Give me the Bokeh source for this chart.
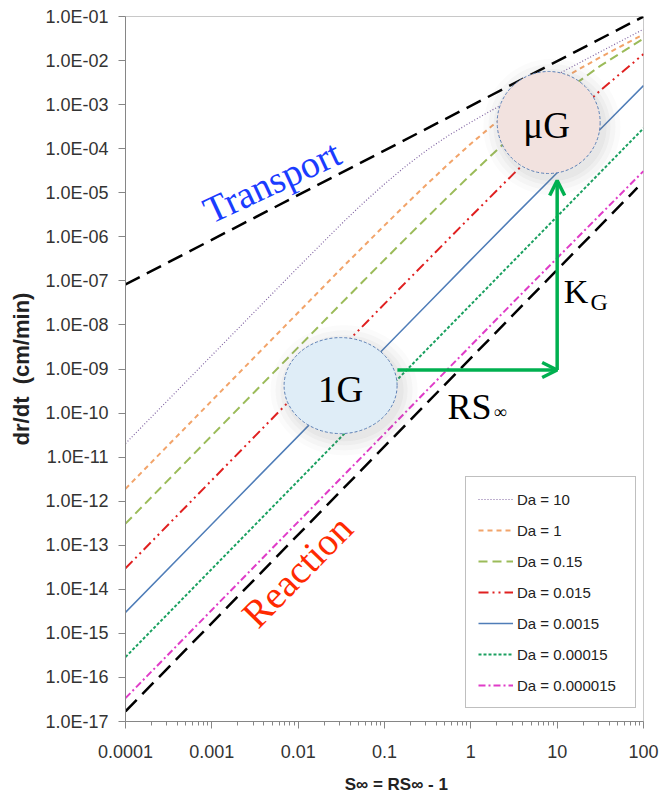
from bokeh.plotting import figure
from bokeh.models import Range1d, FixedTicker, CustomJSTickFormatter, Arrow, OpenHead
from bokeh.core.properties import value
from bokeh.embed import file_html
from bokeh.resources import INLINE

# ---------------- data ----------------
s_inf = [0.0001, 0.001, 0.01, 0.0316, 0.1, 0.316, 1, 3.16, 10, 31.6, 100]
s_inf_fine = [0.0001, 0.001, 0.01, 0.0316, 0.0562, 0.1, 0.178, 0.316, 0.562, 1,
              1.78, 3.16, 5.62, 10, 31.6, 100]
rate_da_10 = [2.04e-11, 2.04e-9, 2.04e-7, 1.95e-6, 5.75e-6, 1.58e-5, 4.07e-5, 9.55e-5,
              2.04e-4, 3.98e-4, 7.59e-4, 1.41e-3, 2.63e-3, 4.79e-3, 1.58e-2, 5.13e-2]
rate_da_1 = [1.91e-12, 1.91e-10, 1.91e-8, 1.91e-7, 5.89e-7, 1.82e-6, 5.50e-6, 1.62e-5,
             4.68e-5, 1.30e-4, 3.35e-4, 7.85e-4, 1.68e-3, 3.35e-3, 1.19e-2, 3.94e-2]
rate_da_0_15 = [3.09e-13, 3.09e-11, 3.09e-9, 3.09e-8, 9.66e-8, 3.02e-7, 9.33e-7, 2.85e-6,
                8.61e-6, 2.57e-5, 7.50e-5, 2.11e-4, 5.75e-4, 1.48e-3, 7.59e-3, 3.16e-2]
rate_da_0_015 = [3.0e-14, 3.0e-12, 3.0e-10, 3.0e-9, 3.0e-8, 2.95e-7, 2.9e-6, 2.75e-5, 2.5e-4, 2.1e-3, 1.4e-2]
rate_da_0_0015 = [3.0e-15, 3.0e-13, 3.0e-11, 3.0e-10, 3.0e-9, 3.0e-8, 3.0e-7, 2.95e-6, 2.85e-5, 2.75e-4, 2.7e-3]
rate_da_0_00015 = [2.9e-16, 2.9e-14, 2.9e-12, 2.9e-11, 2.9e-10, 2.9e-9, 2.9e-8, 2.9e-7, 2.9e-6, 2.9e-5, 2.9e-4]
rate_da_0_000015 = [3.4e-17, 3.4e-15, 3.4e-13, 3.4e-12, 3.4e-11, 3.4e-10, 3.4e-9, 3.4e-8, 3.3e-7, 3.2e-6, 3.1e-5]

da_labels = ["Da = 10", "Da = 1", "Da = 0.15", "Da = 0.015", "Da = 0.0015",
             "Da = 0.00015", "Da = 0.000015"]

transport_x = [0.0001, 100]
transport_y = [8.3e-8, 1.0e-1]
reaction_x = [0.0001, 85]
reaction_y = [1.7e-17, 1.3e-5]

x_ticks = [0.0001, 0.001, 0.01, 0.1, 1, 10, 100]
x_tick_labels = ["0.0001", "0.001", "0.01", "0.1", "1", "10", "100"]
y_ticks = [1e-17, 1e-16, 1e-15, 1e-14, 1e-13, 1e-12, 1e-11, 1e-10, 1e-09,
           1e-08, 1e-07, 1e-06, 1e-05, 1e-04, 1e-03, 1e-02, 1e-01]
y_tick_labels = ["1.0E-17", "1.0E-16", "1.0E-15", "1.0E-14", "1.0E-13", "1.0E-12",
                 "1.0E-11", "1.0E-10", "1.0E-09", "1.0E-08", "1.0E-07", "1.0E-06",
                 "1.0E-05", "1.0E-04", "1.0E-03", "1.0E-02", "1.0E-01"]

NB = "\u00a0"

# ---------------- figure ----------------
p = figure(x_axis_type="log", y_axis_type="log",
           x_range=Range1d(1e-4, 100), y_range=Range1d(1e-17, 1e-1),
           frame_width=518, frame_height=705,
           min_border_left=125, min_border_right=17, min_border_top=16, min_border_bottom=79,
           output_backend="svg", toolbar_location=None,
           background_fill_color="white", border_fill_color="white")
p.grid.visible = False
p.outline_line_color = "#C8C8C8"

fmt_code = """
let best = 0; let bd = Infinity;
for (let i = 0; i < vals.length; i++) {
  const d = Math.abs(Math.log10(vals[i]) - Math.log10(tick));
  if (d < bd) { bd = d; best = i; }
}
return labels[best];
"""
minor_x = [m * 10.0 ** k for k in range(-4, 2) for m in range(2, 10)]
p.xaxis.ticker = FixedTicker(ticks=x_ticks, minor_ticks=minor_x)
p.xaxis.formatter = CustomJSTickFormatter(args=dict(vals=x_ticks, labels=x_tick_labels), code=fmt_code)
p.yaxis.ticker = FixedTicker(ticks=y_ticks, minor_ticks=[])
p.yaxis.formatter = CustomJSTickFormatter(args=dict(vals=y_ticks, labels=y_tick_labels), code=fmt_code)

for ax in (p.xaxis, p.yaxis):
    ax.axis_line_color = "#868686"
    ax.major_tick_line_color = "#868686"
    ax.minor_tick_line_color = "#868686"
    ax.major_tick_in = 0
    ax.major_tick_out = 7
    ax.minor_tick_in = 0
    ax.major_label_text_font = "Liberation Sans"
    ax.major_label_text_font_size = "18px"
    ax.major_label_text_color = "#333333"
    ax.axis_label_text_font = "Liberation Sans"
    ax.axis_label_text_font_style = "bold"
    ax.axis_label_text_color = "#222222"
p.xaxis.axis_label_text_font_size = "17px"
p.yaxis.axis_label_text_font_size = "22px"
p.xaxis.minor_tick_out = 4
p.yaxis.minor_tick_out = 0
p.xaxis.major_label_standoff = 16
p.yaxis.major_label_standoff = 10
p.xaxis.axis_label = NB * 5 + "S\u221e = RS\u221e - 1"
p.yaxis.axis_label = "dr/dt" + NB + NB + "(cm/min)"
p.xaxis.axis_label_standoff = 14
p.yaxis.axis_label_standoff = 8

# ---------------- limit lines ----------------
p.line(transport_x, transport_y, line_color="black", line_width=2.5, line_dash="16 8")
p.line(reaction_x, reaction_y, line_color="black", line_width=2.5, line_dash="16 8")

# ---------------- Da curves ----------------
series = [(s_inf_fine, rate_da_10), (s_inf_fine, rate_da_1), (s_inf_fine, rate_da_0_15),
          (s_inf, rate_da_0_015), (s_inf, rate_da_0_0015),
          (s_inf, rate_da_0_00015), (s_inf, rate_da_0_000015)]
styles = [
    dict(line_color="#8064A2", line_width=1.2, line_dash="1 2"),
    dict(line_color="#F2A46A", line_width=2, line_dash="5 4"),
    dict(line_color="#9BBB59", line_width=2, line_dash="9 5"),
    dict(line_color="#E02020", line_width=2, line_dash="10 4 2 4 2 4"),
    dict(line_color="#4F7DB8", line_width=1.5),
    dict(line_color="#1AA060", line_width=2, line_dash="3 2"),
    dict(line_color="#E03CC8", line_width=2, line_dash="7 3 2 3"),
]
for (xs, ys), lab, st in zip(series, da_labels, styles):
    p.line(xs, ys, legend_label=lab, **st)

# ---------------- circles with shadows ----------------
g1_center = (0.031, 4.2e-10)
ug_center = (7.97, 3.93e-4)
shadow_1g = (0.034, 3.3e-10)
shadow_ug = (8.7, 3.1e-4)
for grow, alpha in [(34, 0.03), (24, 0.04), (14, 0.05), (6, 0.06)]:
    p.ellipse(x=[shadow_1g[0]], y=[shadow_1g[1]], width=113 + grow, height=96 + grow,
              width_units="screen", height_units="screen",
              fill_color="#707070", fill_alpha=alpha, line_color=None)
    p.ellipse(x=[shadow_ug[0]], y=[shadow_ug[1]], width=103 + grow, height=102 + grow,
              width_units="screen", height_units="screen",
              fill_color="#707070", fill_alpha=alpha, line_color=None)
p.ellipse(x=[g1_center[0]], y=[g1_center[1]], width=113, height=96,
          width_units="screen", height_units="screen",
          fill_color="#DFEDF7", line_color="#5B7FB5", line_width=1, line_dash="3 2")
p.ellipse(x=[ug_center[0]], y=[ug_center[1]], width=103, height=102,
          width_units="screen", height_units="screen",
          fill_color="#F2E2DF", line_color="#5B7FB5", line_width=1, line_dash="3 2")

serif = value("Liberation Serif")
p.text(x=[0.031], y=[3.5e-10], text=["1G"], text_font=serif, text_font_size="37px",
       text_align="center", text_baseline="middle", text_color="black")
p.text(x=[7.55], y=[3.4e-4], text=["\u03bcG"], text_font=serif, text_font_size="37px",
       text_align="center", text_baseline="middle", text_color="black")

# ---------------- labels ----------------
p.text(x=[8.45e-4], y=[3.56e-6], text=["Transport"], text_font=serif, text_font_size="38px",
       text_color="#1A3CFF", angle=0.436, text_align="left", text_baseline="alphabetic")
p.text(x=[2.66e-3], y=[1.95e-15], text=["Reaction"], text_font=serif, text_font_size="39px",
       text_color="#FF2A00", angle=0.796, text_align="left", text_baseline="alphabetic")
p.text(x=[11.9], y=[5.7e-8], text=["K"], text_font=serif, text_font_size="34px",
       text_color="black", text_align="left", text_baseline="alphabetic")
p.text(x=[24.4], y=[3.4e-8], text=["G"], text_font=serif, text_font_size="24px",
       text_color="black", text_align="left", text_baseline="alphabetic")
p.text(x=[0.538], y=[1.4e-10], text=["RS"], text_font=serif, text_font_size="36px",
       text_color="black", text_align="left", text_baseline="alphabetic")
p.text(x=[1.84], y=[1.08e-10], text=["\u221e"], text_font=serif, text_font_size="18px",
       text_color="black", text_align="left", text_baseline="alphabetic")

# ---------------- arrows ----------------
green = "#00B050"
p.add_layout(Arrow(end=OpenHead(size=15, line_color=green, line_width=3.5),
                   x_start=0.141, y_start=9.5e-10, x_end=10, y_end=9.5e-10,
                   line_color=green, line_width=3.5))
p.add_layout(Arrow(end=OpenHead(size=15, line_color=green, line_width=3.5),
                   x_start=10, y_start=9.5e-10, x_end=10, y_end=1.9e-5,
                   line_color=green, line_width=3.5))

# ---------------- legend ----------------
lg = p.legend[0]
lg.location = (340, 13)
lg.margin = 0
lg.padding = 12
lg.spacing = 11
lg.glyph_width = 35
lg.glyph_height = 20
lg.label_height = 20
lg.label_width = 106
lg.label_standoff = 4
lg.label_text_font = "Liberation Sans"
lg.label_text_font_size = "15px"
lg.label_text_color = "#222222"
lg.border_line_color = "#808080"
lg.border_line_width = 1
lg.background_fill_color = "white"
lg.background_fill_alpha = 1.0

open("out.html", "w").write(file_html(p, INLINE))
